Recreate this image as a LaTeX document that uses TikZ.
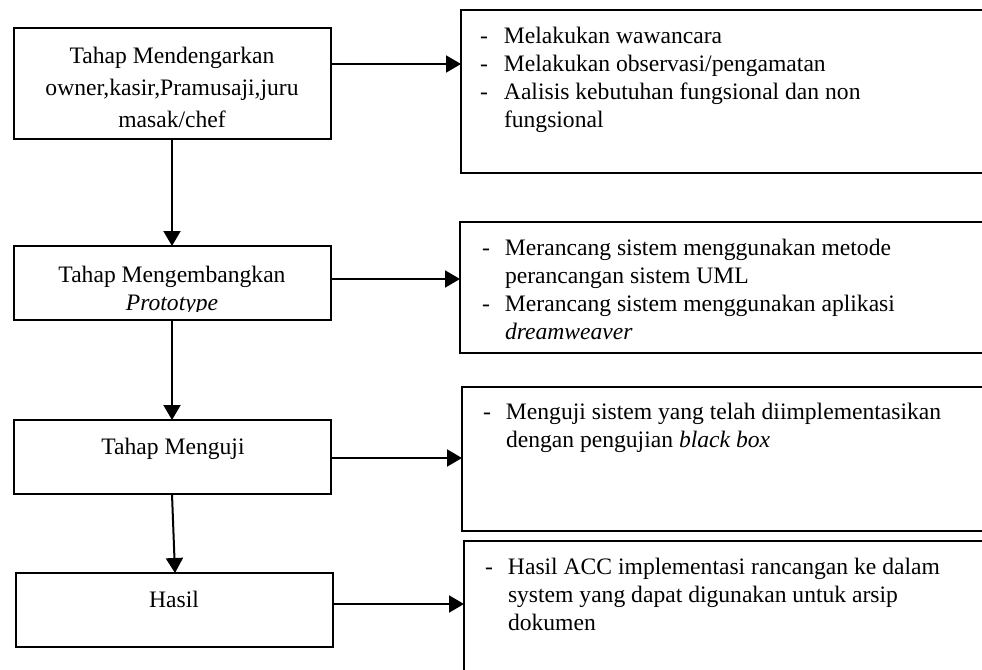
\documentclass[tikz,border=0pt]{standalone}
\usepackage{fontspec}
\setmainfont{Liberation Serif}
\usetikzlibrary{arrows.meta,fit}
\begin{document}
\begin{tikzpicture}[x=0.5pt,y=-0.5pt,
  box/.style={draw,line width=1pt,inner sep=0pt,outer sep=0pt},
  arr/.style={line width=1pt,-{Triangle[length=7.5pt,width=8.5pt]}},
  txt/.style={inner sep=0pt,outer sep=0pt,font=\fontsize{11.8}{14}\selectfont},
  ]
\path[use as bounding box] (0,0) rectangle (982,670);
\clip (0,0) rectangle (982,670);

% stage labels
\node[txt,anchor=base,font=\fontsize{11.8}{16}\selectfont] (t1) at (172,63)
  {\begin{tabular}[t]{@{}c@{}}Tahap Mendengarkan\hspace{5pt}\\ owner,kasir,Pramusaji,juru\\ masak/chef\end{tabular}};
\begin{scope}
  \clip (14,246) rectangle (331,311);
  \node[txt,anchor=base] (t2) at (172,282)
    {\begin{tabular}[t]{@{}c@{}}Tahap Mengembangkan\\ \textit{Prototype}\end{tabular}};
\end{scope}
\node[txt,anchor=base] (t3) at (173,454) {Tahap Menguji};
\node[txt,anchor=base] (t4) at (174,607) {Hasil};

% stage boxes
\node[box,fit={(14,28) (331,139)}] (b1) {};
\node[box,fit={(14,246) (331,320)}] (b2) {};
\node[box,fit={(14,420) (331,494)}] (b3) {};
\node[box,fit={(16,573) (333,647)}] (b4) {};

% activity boxes
\node[box,fit={(461,10) (1010,173)}] (r1) {};
\node[box,fit={(460,222) (1010,353)}] (r2) {};
\node[box,fit={(462,387) (1010,531)}] (r3) {};
\node[box,fit={(464,541) (1010,700)}] (r4) {};

% activity lists
\node[txt,anchor=base west] (l1) at (480,43)
  {\begin{tabular}[t]{@{}p{12pt}@{}l@{}}
   - & Melakukan wawancara\\
   - & Melakukan observasi/pengamatan\\
   - & Aalisis kebutuhan fungsional dan non\\
     & fungsional
   \end{tabular}};
\node[txt,anchor=base west] (l2) at (482,255)
  {\begin{tabular}[t]{@{}p{11.5pt}@{}l@{}}
   - & Merancang sistem menggunakan metode\\
     & perancangan sistem UML\\
   - & Merancang sistem menggunakan aplikasi\\
     & \textit{dreamweaver}
   \end{tabular}};
\node[txt,anchor=base west] (l3) at (483,419)
  {\begin{tabular}[t]{@{}p{11.5pt}@{}l@{}}
   - & Menguji sistem yang telah diimplementasikan\\
     & dengan pengujian \textit{black box}
   \end{tabular}};
\node[txt,anchor=base west] (l4) at (485,574)
  {\begin{tabular}[t]{@{}p{11.5pt}@{}l@{}}
   - & Hasil ACC implementasi rancangan ke dalam\\
     & system yang dapat digunakan untuk arsip\\
     & dokumen
   \end{tabular}};

% flow between stages
\draw[arr] (b1.south -| 172,0) -- (b2.north -| 172,0);
\draw[arr] (b2.south -| 172,0) -- (b3.north -| 172,0);
\draw[arr] (b3.south -| 172,0) -- (b4.north -| 175,0);

% stage to activities
\draw[arr] (b1.east |- 0,64) -- (r1.west |- 0,64);
\draw[arr] (b2.east |- 0,279) -- (r2.west |- 0,279);
\draw[arr] (b3.east |- 0,458) -- (r3.west |- 0,458);
\draw[arr] (b4.east |- 0,604) -- (r4.west |- 0,604);
\end{tikzpicture}
\end{document}
